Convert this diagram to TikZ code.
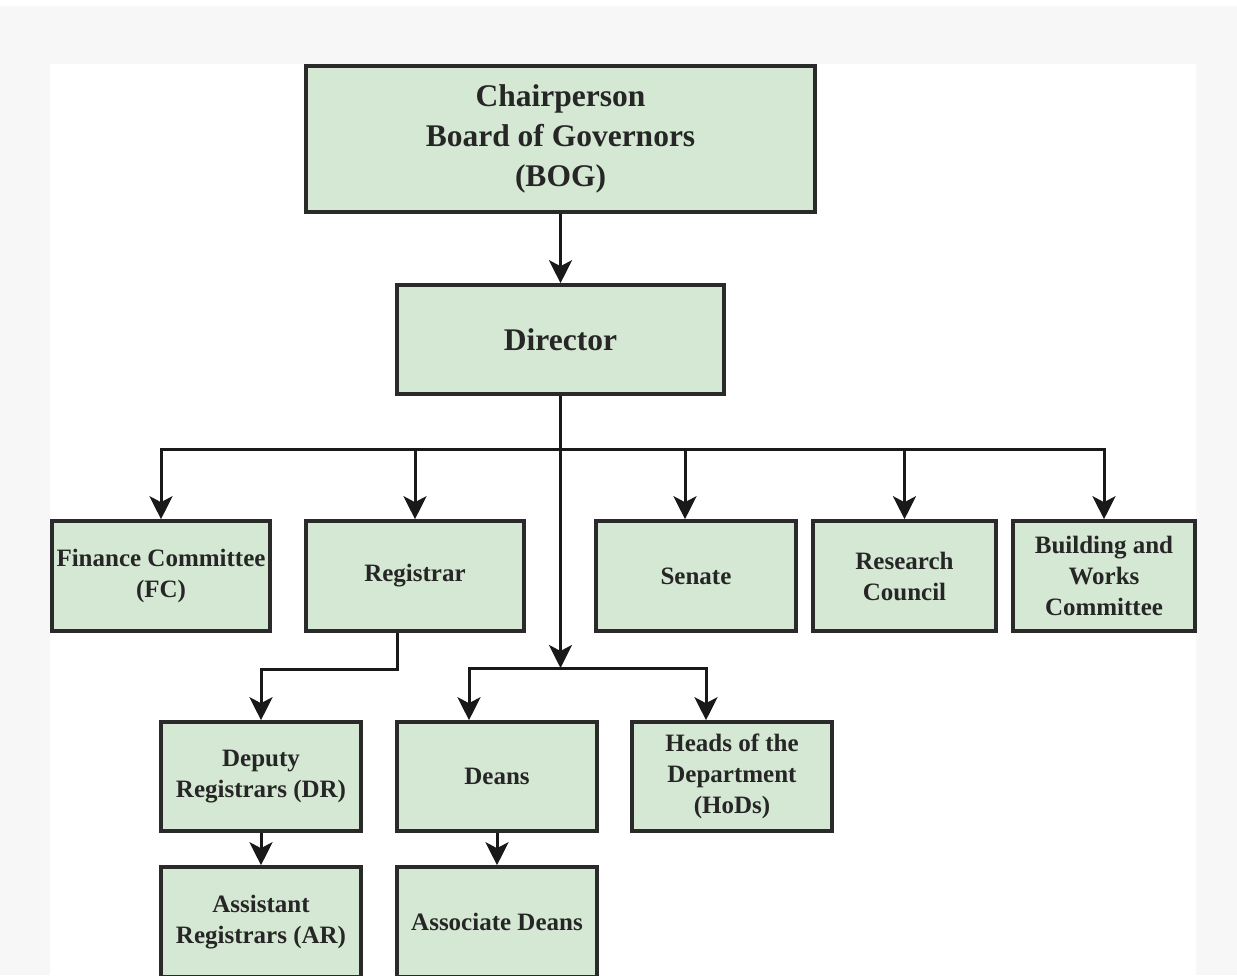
\documentclass[tikz,border=0pt]{standalone}
\usepackage{fontspec}
\setmainfont{Liberation Serif}
\usetikzlibrary{arrows.meta}
\definecolor{boxfill}{HTML}{D5E8D4}
\definecolor{boxline}{HTML}{2A2A2A}
\definecolor{pagegray}{HTML}{F7F7F7}

\begin{document}
\begin{tikzpicture}[x=1pt, y=-1pt,
		box/.style={draw=boxline, fill=boxfill, line width=3.6pt, align=center, inner sep=0pt, text=black!85, font=\bfseries\fontsize{25}{31}\selectfont},
		bigbox/.style={box, font=\bfseries\fontsize{31.5}{40}\selectfont},
		wire/.style={line width=3pt, draw=black!90},
		arr/.style={wire, -{Stealth[length=23pt, width=23pt, inset=6pt]}}]
	\clip (0,0) rectangle (1237,975);
	\fill[pagegray] (0,6) rectangle (1237,975);
	\fill[white] (50,64) rectangle (1196,975);

	\node[bigbox, minimum width=509, minimum height=146] (bog) at (560.5,139) {Chairperson\\Board of Governors\\(BOG)};
	\node[bigbox, minimum width=327, minimum height=109] (dir) at (560.5,339.5) {Director};

	\node[box, minimum width=218, minimum height=110] (fc) at (161,576) {Finance Committee\\(FC)};
	\node[box, minimum width=218, minimum height=110] (reg) at (415,576) {Registrar};
	\node[box, minimum width=200, minimum height=110] (sen) at (696,576) {Senate};
	\node[box, minimum width=183, minimum height=110] (rc) at (904.5,576) {Research\\Council};
	\node[box, minimum width=182, minimum height=110] (bwc) at (1104,576) {Building and\\Works\\Committee};

	\node[box, minimum width=200, minimum height=109] (dr) at (261,776.5) {Deputy\\Registrars (DR)};
	\node[box, minimum width=200, minimum height=109] (deans) at (497,776.5) {Deans};
	\node[box, minimum width=200, minimum height=109] (hod) at (732,776.5) {Heads of the\\Department\\(HoDs)};

	\node[box, minimum width=200, minimum height=110] (ar) at (261,922) {Assistant\\Registrars (AR)};
	\node[box, minimum width=200, minimum height=110] (ad) at (497,922) {Associate Deans};

	\coordinate (bus) at (560.5,449);
	\coordinate (split) at (560.5,668);

	\draw[arr] (bog) -- (dir);
	\draw[wire] (dir) -- (bus);
	\foreach \n in {fc,reg,rc,bwc}
		\draw[arr] (bus) -| (\n.north);
	\draw[arr] (bus) -| ([xshift=-11pt]sen.north);
	\draw[arr] (bus) -- (split);
	\draw[arr] (split) -| ([xshift=-28pt]deans.north);
	\draw[arr] (split) -| ([xshift=-26pt]hod.north);
	\draw[arr] ([xshift=-18pt]reg.south) -- ++(0,37) -| (dr.north);
	\draw[arr] (dr) -- (ar);
	\draw[arr] (deans) -- (ad);
\end{tikzpicture}
\end{document}
